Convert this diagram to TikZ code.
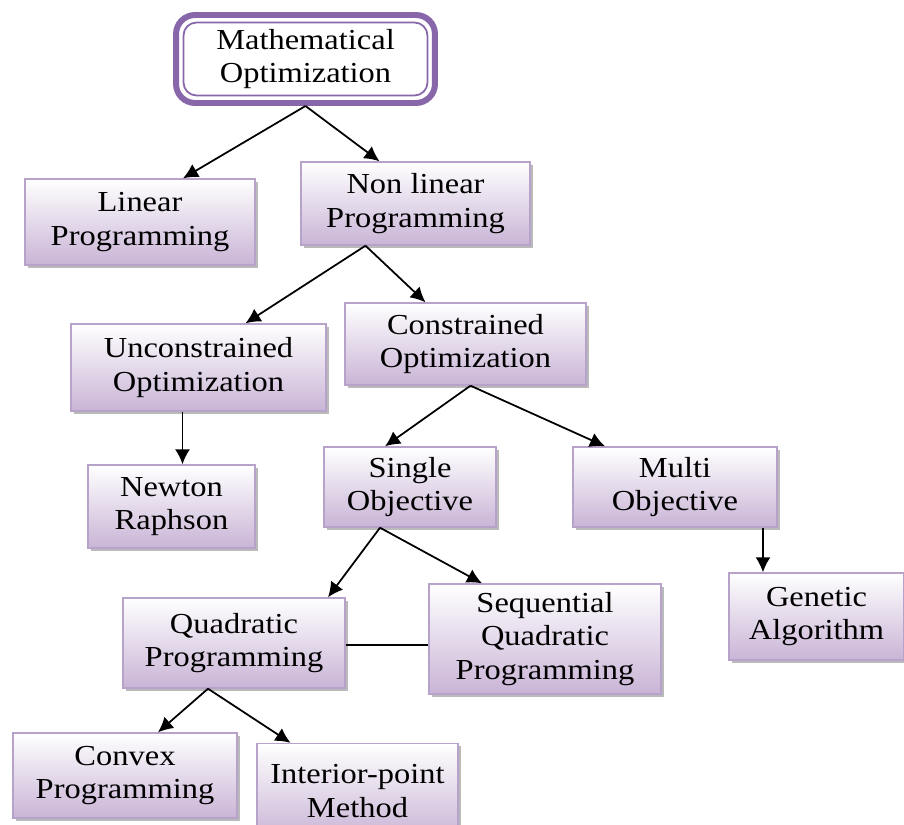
\documentclass[tikz,border=0pt]{standalone}
\usepackage{fontspec}
\setmainfont{Liberation Serif}[FakeStretch=1.12]
\usepackage{tikz}
\usetikzlibrary{arrows.meta, positioning, calc, shadows}
\definecolor{boxfill}{HTML}{C9B4D6}
\definecolor{boxedge}{HTML}{B7A2CA}
\definecolor{rootedge}{HTML}{8866AA}

\begin{document}
\begin{tikzpicture}[x=0.02cm, y=-0.02cm,
  block/.style={rectangle, draw=boxedge, line width=0.8pt, top color=white, bottom color=boxfill,
    font=\fontsize{16.5}{19}\selectfont, align=center, inner sep=2pt,
    drop shadow={shadow xshift=1.6pt, shadow yshift=-1.6pt, fill=black!45, opacity=0.6}},
  rootbox/.style={rectangle, rounded corners=0.38cm, draw=rootedge, line width=3.4pt, fill=white,
    font=\fontsize{16.5}{19}\selectfont, align=center, minimum width=5.18cm, minimum height=1.76cm},
  rootinner/.style={rectangle, rounded corners=0.26cm, draw=rootedge, line width=1pt,
    minimum width=4.88cm, minimum height=1.46cm, inner sep=0pt},
  arrow/.style={-{Latex[length=0.3cm, width=0.3cm]}, line width=1pt}]

\useasboundingbox (0,0) rectangle (904,825);

% root
\node[rootbox] (mo) at (305.5,59) {Mathematical\\Optimization};
\node[rootinner] (moin) at (mo.center) {};

% level 1
\node[block, minimum width=4.6cm, minimum height=1.72cm] (lp) at (140,222) {Linear\\Programming};
\node[block, minimum width=4.58cm, minimum height=1.66cm] (nlp) at (415.5,203.5) {Non linear\\Programming};

% level 2
\node[block, minimum width=5.1cm, minimum height=1.74cm] (uo) at (198.5,367.5) {Unconstrained\\Optimization};
\node[block, minimum width=4.82cm, minimum height=1.64cm] (co) at (465.5,344) {Constrained\\Optimization};

% level 3
\node[block, minimum width=3.34cm, minimum height=1.66cm] (nr) at (171.5,506.5) {Newton\\Raphson};
\node[block, minimum width=3.44cm, minimum height=1.6cm] (so) at (410,487) {Single\\Objective};
\node[block, minimum width=4.08cm, minimum height=1.6cm] (mobj) at (675,487) {Multi\\Objective};

% level 4
\node[block, minimum width=3.5cm, minimum height=1.74cm] (ga) at (816.5,616.5) {Genetic\\Algorithm};
\node[block, minimum width=4.44cm, minimum height=1.8cm] (qp) at (234,643) {Quadratic\\Programming};
\node[block, minimum width=4.64cm, minimum height=2.2cm] (sqp) at (545,639) {Sequential\\Quadratic\\Programming};

% level 5
\node[block, minimum width=4.48cm, minimum height=1.7cm] (cp) at (125,775.5) {Convex\\Programming};
\node[block, minimum width=4.02cm, minimum height=1.9cm] (ip) at (357.5,791) {Interior-point\\Method};

% connectors
\draw[arrow] (mo.south) -- ([xshift=0.86cm]lp.north);
\draw[arrow] (mo.south) -- ([xshift=-0.72cm]nlp.north);
\draw[arrow] ([xshift=-1cm]nlp.south) -- ([xshift=0.94cm]uo.north);
\draw[arrow] ([xshift=-1cm]nlp.south) -- ([xshift=-0.8cm]co.north);
\draw[arrow] ([xshift=-0.32cm]uo.south) -- ([xshift=-0.32cm]uo.south |- nr.north);
\draw[arrow] ([xshift=0.1cm]co.south) -- ([xshift=-0.5cm]so.north);
\draw[arrow] ([xshift=0.1cm]co.south) -- ([xshift=-1.4cm]mobj.north);
\draw[arrow] ([xshift=1.76cm]mobj.south) -- ([xshift=1.76cm]mobj.south |- ga.north);
\draw[arrow] ([xshift=-0.6cm]so.south) -- ([xshift=1.88cm]qp.north);
\draw[arrow] ([xshift=-0.6cm]so.south) -- ([xshift=-1.26cm]sqp.north);
\draw[line width=1pt] ([yshift=-0.04cm]qp.east) -- ([yshift=-0.04cm]qp.east -| sqp.west);
\draw[arrow] ([xshift=-0.52cm]qp.south) -- ([xshift=0.66cm]cp.north);
\draw[arrow] ([xshift=-0.52cm]qp.south) -- ([xshift=-1.34cm]ip.north);
\end{tikzpicture}
\end{document}
